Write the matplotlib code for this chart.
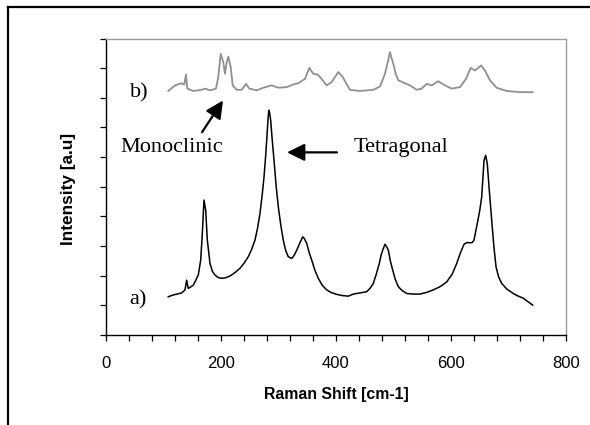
import matplotlib
matplotlib.use("Agg")
import matplotlib.pyplot as plt
from matplotlib.lines import Line2D
from matplotlib.ticker import MultipleLocator, FuncFormatter

# ---- data ----
shift_a = [108.3, 117, 131.7, 137.4, 140.3, 143.1, 151.8, 160.5, 164.7, 167.5, 170.4,
           173.4, 176.2, 180.9, 185, 189.6, 195, 201.2, 208, 215.7, 224, 233, 240, 247.5,
           253.5, 259.1, 263.5, 267.8, 271.5, 274.8, 277.5, 279.5, 281.5, 283, 284.5,
           286.4, 289, 292.2, 296, 299.7, 304, 308.3, 312.5, 317, 322.9, 327, 331.7,
           337, 342.1, 345, 349.1, 353, 357.7, 363, 369.2, 376, 383.8, 392, 401.2,
           411, 421.4, 430.1, 442, 453.4, 459, 464.9, 470, 475.3, 478.5, 481.2, 485.2,
           488, 491, 494.5, 498.6, 503, 508.3, 515, 523, 535, 546.1, 558, 569.2, 581,
           592.5, 602, 609.9, 616, 622.6, 628, 633, 637, 640, 645.7, 650, 653.4, 655.5,
           657.4, 660.3, 663.1, 666.5, 670.8, 674.5, 678.3, 683, 688.2, 697, 708.3,
           716, 725.7, 734, 742.1]
int_a = [1.29, 1.35, 1.42, 1.52, 1.85, 1.57, 1.68, 2.02, 2.53, 3.42, 4.55,
         4.21, 3.20, 2.41, 2.15, 2.02, 1.94, 1.91, 1.93, 1.99, 2.1, 2.25, 2.42, 2.64,
         2.9, 3.20, 3.6, 4.10, 4.7, 5.33, 6.0, 6.57, 7.2, 7.58, 7.5,
         7.24, 6.6, 5.89, 5.0, 4.32, 3.7, 3.20, 2.85, 2.64, 2.58, 2.68, 2.86,
         3.1, 3.31, 3.25, 3.09, 2.8, 2.53, 2.2, 1.91, 1.68, 1.52, 1.43, 1.37,
         1.33, 1.31, 1.38, 1.42, 1.46, 1.57, 1.74, 2.05, 2.41, 2.7, 2.86, 3.06,
         2.98, 2.86, 2.5, 2.19, 1.88, 1.63, 1.5, 1.40, 1.38, 1.38, 1.44, 1.52, 1.63,
         1.79, 2.05, 2.41, 2.75, 3.06, 3.12, 3.11, 3.12, 3.20, 3.76, 4.2, 4.66, 5.3,
         5.89, 6.06, 5.78, 4.9, 3.87, 3.0, 2.30, 1.95, 1.74, 1.55, 1.40,
         1.32, 1.24, 1.12, 1.01]

shift_b = [108.3, 120, 131.7, 136.2, 139.1, 141.4, 151.8, 166.4, 172.2, 180.9, 191.3,
           195.3, 199.5, 204, 207, 209.9, 212.7, 216.9, 220.3, 227.3, 236, 243.5,
           249.2, 262.1, 273.6, 288.2, 299.7, 314.3, 325.7, 334.4, 346.1, 353.6,
           360.5, 367.5, 372.2, 383.8, 392.5, 404, 411.7, 421.4, 424.3, 441.7, 464.9,
           476.5, 485.2, 490, 493.9, 496.5, 499.7, 504, 508.3, 520, 528.7, 540.3, 549,
           557.7, 566.4, 577.9, 589.6, 601.2, 615.7, 626.1, 634.3, 641.7, 652.2, 659.1,
           667.8, 679.5, 696.9, 720, 742.1]
int_b = [8.23, 8.42, 8.49, 8.45, 8.79, 8.31, 8.23, 8.27, 8.31, 8.25, 8.31,
         8.70, 9.48, 9.20, 8.81, 9.20, 9.39, 9.03, 8.42, 8.27, 8.27, 8.47,
         8.31, 8.25, 8.34, 8.42, 8.34, 8.36, 8.45, 8.49, 8.64, 9.01,
         8.81, 8.79, 8.70, 8.42, 8.53, 8.87, 8.70, 8.36, 8.27, 8.23, 8.27,
         8.38, 8.81, 9.2, 9.54, 9.35, 9.15, 8.8, 8.59, 8.49, 8.42, 8.27, 8.31,
         8.47, 8.42, 8.56, 8.42, 8.31, 8.36, 8.64, 9.01, 8.92, 9.09, 8.92,
         8.59, 8.34, 8.23, 8.19, 8.19]

x_ticks = [0, 200, 400, 600, 800]
x_label = "Raman Shift [cm-1]"
y_label = "Intensity [a.u]"

W, H = 590, 425
fig = plt.figure(figsize=(W / 100, H / 100), dpi=100)
ax = fig.add_axes([106 / W, (H - 335) / H, (566 - 106) / W, (335 - 38.5) / H])

ax.plot(shift_b, int_b, color="#909090", lw=1.3)
ax.plot(shift_a, int_a, color="black", lw=1.1)

ax.set_xlim(0, 800)
ax.set_ylim(0, 10)
ax.xaxis.set_major_locator(MultipleLocator(40))
ax.xaxis.set_major_formatter(FuncFormatter(lambda v, p: f"{int(round(v))}" if round(v) in x_ticks else ""))
ax.yaxis.set_major_locator(MultipleLocator(1))
ax.yaxis.set_major_formatter(FuncFormatter(lambda v, p: ""))
ax.tick_params(axis="both", direction="out", length=4.5, width=0.9, color="black")
ax.tick_params(axis="x", pad=10.5, labelsize=12)
for lab in ax.get_xticklabels():
    lab.set_family("Liberation Sans")

for s in ("left", "bottom"):
    ax.spines[s].set_color("black")
    ax.spines[s].set_linewidth(1.0)
for s in ("top", "right"):
    ax.spines[s].set_color("#9a9a9a")
    ax.spines[s].set_linewidth(1.0)

ax.set_xlabel(x_label, fontsize=11.4, fontweight="bold", family="Liberation Sans")
ax.set_ylabel(y_label, fontsize=12.4, fontweight="bold", family="Liberation Sans")
ax.xaxis.set_label_coords(0.5, (335 - 395) / 297)
ax.xaxis.label.set_va("center")
ax.yaxis.set_label_coords((69 - 106) / 460, (335 - 188.5) / 297)
ax.yaxis.label.set_va("center")

serif = dict(family="Liberation Serif", fontsize=16)
ax.text(57.4, 8.18, "b)", ha="center", va="center", **serif)
ax.text(55.7, 1.18, "a)", ha="center", va="center", **serif)
ax.text(114.8, 6.33, "Monoclinic", ha="center", va="center", **serif)
ax.text(513, 6.33, "Tetragonal", ha="center", va="center", **serif)

arrow = dict(arrowstyle="-|>,head_length=0.85,head_width=0.42", color="black", lw=1.6,
             shrinkA=0, shrinkB=0, mutation_scale=12.5)
ax.annotate("", xy=(203.5, 7.91), xytext=(167, 6.84), arrowprops=arrow)
ax.annotate("", xy=(314.8, 6.16), xytext=(401.7, 6.16), arrowprops=arrow)

# outer frame lines
fig.add_artist(Line2D([8 / W, 1.0], [(H - 7) / H, (H - 7) / H], transform=fig.transFigure,
                      color="black", lw=1.6))
fig.add_artist(Line2D([8 / W, 8 / W], [0, (H - 7) / H], transform=fig.transFigure,
                      color="black", lw=1.6))

fig.savefig("out.png", dpi=100)
